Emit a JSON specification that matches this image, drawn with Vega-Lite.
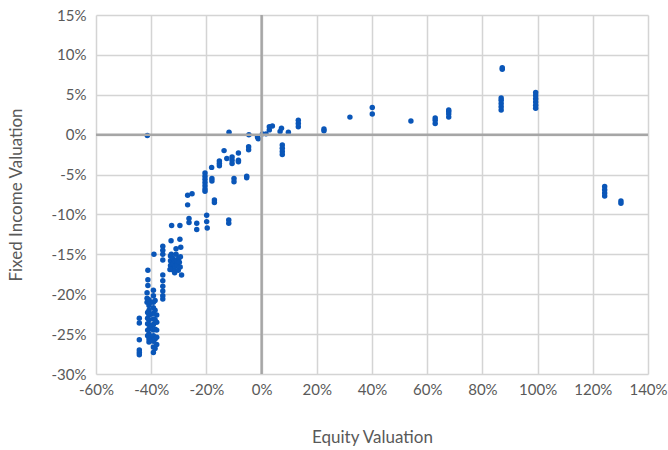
{
  "$schema": "https://vega.github.io/schema/vega-lite/v6.json",
  "width": 552,
  "height": 359,
  "autosize": {"type": "none"},
  "padding": {"left": 96, "top": 15, "right": 20, "bottom": 76},
  "background": "white",
  "config": {
    "view": {"stroke": null},
    "font": "Lato",
    "axis": {
      "labelFont": "Lato",
      "titleFont": "Lato",
      "labelColor": "#595959",
      "titleColor": "#595959",
      "labelFontSize": 15,
      "titleFontSize": 17,
      "titleFontWeight": "normal",
      "gridColor": "#d4d4d4",
      "gridWidth": 1.5,
      "domain": false,
      "ticks": false,
      "labelOverlap": false
    }
  },
  "datasets": {
    "pts": [
      {"x": -41.4, "y": -0.1},
      {"x": -44.3, "y": -23.0}, {"x": -44.3, "y": -23.6}, {"x": -44.3, "y": -25.7}, {"x": -44.3, "y": -27.0}, {"x": -44.3, "y": -27.3}, {"x": -44.3, "y": -27.6},
      {"x": -41.2, "y": -17.0}, {"x": -41.2, "y": -18.2}, {"x": -41.2, "y": -18.9},
      {"x": -41.5, "y": -19.8}, {"x": -41.5, "y": -20.5}, {"x": -41.5, "y": -21.0},
      {"x": -40.8, "y": -20.7}, {"x": -40.8, "y": -21.4}, {"x": -40.8, "y": -22.0}, {"x": -40.8, "y": -22.6}, {"x": -40.8, "y": -23.2}, {"x": -40.8, "y": -23.8}, {"x": -40.8, "y": -24.4}, {"x": -40.8, "y": -25.0}, {"x": -40.8, "y": -25.6}, {"x": -40.8, "y": -26.0},
      {"x": -41.3, "y": -22.3}, {"x": -41.3, "y": -23.0}, {"x": -41.3, "y": -23.7}, {"x": -41.3, "y": -24.5}, {"x": -41.3, "y": -25.2},
      {"x": -40.2, "y": -21.0}, {"x": -40.2, "y": -22.5}, {"x": -40.2, "y": -24.0}, {"x": -40.2, "y": -25.5},
      {"x": -39.2, "y": -19.5}, {"x": -39.2, "y": -20.2}, {"x": -39.2, "y": -21.0}, {"x": -39.2, "y": -21.7}, {"x": -39.2, "y": -22.4}, {"x": -39.2, "y": -23.1}, {"x": -39.2, "y": -23.8}, {"x": -39.2, "y": -24.5}, {"x": -39.2, "y": -25.2}, {"x": -39.2, "y": -25.9}, {"x": -39.2, "y": -26.6}, {"x": -39.2, "y": -27.3},
      {"x": -38.6, "y": -20.8}, {"x": -38.6, "y": -22.0}, {"x": -38.6, "y": -23.2}, {"x": -38.6, "y": -24.4}, {"x": -38.6, "y": -25.6}, {"x": -38.6, "y": -26.8},
      {"x": -38.0, "y": -22.6}, {"x": -38.0, "y": -23.5}, {"x": -38.0, "y": -24.5}, {"x": -38.0, "y": -25.4}, {"x": -38.0, "y": -26.3},
      {"x": -39.0, "y": -15.0},
      {"x": -35.8, "y": -14.0}, {"x": -35.8, "y": -14.5}, {"x": -35.8, "y": -15.0}, {"x": -35.8, "y": -15.7}, {"x": -35.8, "y": -17.6}, {"x": -35.8, "y": -18.3}, {"x": -35.8, "y": -19.0}, {"x": -35.8, "y": -19.6}, {"x": -35.8, "y": -20.2}, {"x": -35.8, "y": -20.6},
      {"x": -32.8, "y": -13.3}, {"x": -32.6, "y": -11.4}, {"x": -29.6, "y": -11.4}, {"x": -29.6, "y": -13.1}, {"x": -29.3, "y": -14.1},
      {"x": -31.0, "y": -14.3}, {"x": -31.0, "y": -15.0},
      {"x": -33.0, "y": -15.2}, {"x": -33.0, "y": -15.8}, {"x": -33.0, "y": -16.4}, {"x": -32.5, "y": -16.9}, {"x": -32.2, "y": -15.5}, {"x": -32.0, "y": -16.2}, {"x": -31.8, "y": -17.0}, {"x": -31.5, "y": -15.8}, {"x": -31.2, "y": -16.5}, {"x": -30.8, "y": -15.7}, {"x": -30.5, "y": -16.3}, {"x": -30.2, "y": -17.0}, {"x": -30.0, "y": -15.5}, {"x": -29.8, "y": -16.0}, {"x": -29.5, "y": -16.6}, {"x": -29.4, "y": -15.3}, {"x": -33.2, "y": -16.9}, {"x": -32.7, "y": -15.0}, {"x": -29.0, "y": -17.6}, {"x": -31.5, "y": -17.3},
      {"x": -26.8, "y": -7.6}, {"x": -25.2, "y": -7.4}, {"x": -26.8, "y": -8.8}, {"x": -26.3, "y": -10.5}, {"x": -26.3, "y": -11.0},
      {"x": -23.5, "y": -11.1}, {"x": -23.5, "y": -11.9},
      {"x": -20.5, "y": -4.8}, {"x": -20.5, "y": -5.2}, {"x": -20.5, "y": -5.6}, {"x": -20.5, "y": -6.0}, {"x": -20.5, "y": -6.4}, {"x": -20.5, "y": -6.8}, {"x": -20.5, "y": -7.1},
      {"x": -19.9, "y": -10.1}, {"x": -19.9, "y": -10.9}, {"x": -19.7, "y": -11.7},
      {"x": -18.1, "y": -4.1}, {"x": -18.0, "y": -5.5}, {"x": -18.0, "y": -5.8},
      {"x": -17.1, "y": -8.2}, {"x": -17.1, "y": -8.5},
      {"x": -15.3, "y": -3.3}, {"x": -15.3, "y": -3.6}, {"x": -15.3, "y": -3.9},
      {"x": -13.6, "y": -2.0}, {"x": -12.6, "y": -3.0}, {"x": -11.8, "y": 0.3},
      {"x": -11.9, "y": -10.7}, {"x": -11.9, "y": -11.1},
      {"x": -10.7, "y": -2.8}, {"x": -10.7, "y": -3.2}, {"x": -10.7, "y": -3.6},
      {"x": -10.0, "y": -5.5}, {"x": -10.0, "y": -5.9},
      {"x": -8.4, "y": -2.3}, {"x": -8.4, "y": -3.2}, {"x": -8.4, "y": -3.4},
      {"x": -5.4, "y": -5.2}, {"x": -5.4, "y": -5.4},
      {"x": -4.7, "y": -1.5}, {"x": -4.7, "y": -1.9}, {"x": -4.6, "y": 0.0},
      {"x": -1.5, "y": -0.3}, {"x": -1.2, "y": -0.5}, {"x": 0.3, "y": 0.1}, {"x": 1.6, "y": 0.1},
      {"x": 2.8, "y": 0.6}, {"x": 2.8, "y": 1.0}, {"x": 3.9, "y": 1.1},
      {"x": 6.7, "y": 0.4}, {"x": 7.2, "y": 0.8},
      {"x": 7.5, "y": -1.3}, {"x": 7.5, "y": -1.7}, {"x": 7.5, "y": -2.1}, {"x": 7.5, "y": -2.5},
      {"x": 9.7, "y": 0.3},
      {"x": 13.3, "y": 1.0}, {"x": 13.3, "y": 1.4}, {"x": 13.3, "y": 1.8},
      {"x": 22.6, "y": 0.5}, {"x": 22.6, "y": 0.7},
      {"x": 32.0, "y": 2.2},
      {"x": 40.1, "y": 2.6}, {"x": 40.1, "y": 3.4},
      {"x": 54.1, "y": 1.7},
      {"x": 62.9, "y": 1.4}, {"x": 62.9, "y": 1.8}, {"x": 62.9, "y": 2.1},
      {"x": 67.8, "y": 2.2}, {"x": 67.8, "y": 2.6}, {"x": 67.8, "y": 2.9}, {"x": 67.8, "y": 3.1},
      {"x": 87.2, "y": 8.2}, {"x": 87.2, "y": 8.4},
      {"x": 86.8, "y": 3.1}, {"x": 86.8, "y": 3.5}, {"x": 86.8, "y": 3.9}, {"x": 86.8, "y": 4.3}, {"x": 86.8, "y": 4.6},
      {"x": 99.3, "y": 3.3}, {"x": 99.3, "y": 3.7}, {"x": 99.3, "y": 4.1}, {"x": 99.3, "y": 4.5}, {"x": 99.3, "y": 4.9}, {"x": 99.3, "y": 5.3},
      {"x": 124.3, "y": -6.5}, {"x": 124.3, "y": -6.9}, {"x": 124.3, "y": -7.3}, {"x": 124.3, "y": -7.7},
      {"x": 130.2, "y": -8.3}, {"x": 130.2, "y": -8.6}
    ],
    "zx": [{"x": 0}],
    "zy": [{"y": 0}]
  },
  "encoding": {
    "x": {
      "field": "x", "type": "quantitative",
      "scale": {"domain": [-60, 140], "nice": false, "zero": false},
      "axis": {
        "values": [-60, -40, -20, 0, 20, 40, 60, 80, 100, 120, 140],
        "labelExpr": "datum.value + '%'",
        "title": "Equity Valuation",
        "titlePadding": 32,
        "labelPadding": 8,
        "labelFlush": false
      }
    },
    "y": {
      "field": "y", "type": "quantitative",
      "scale": {"domain": [-30, 15], "nice": false, "zero": false},
      "axis": {
        "values": [-30, -25, -20, -15, -10, -5, 0, 5, 10, 15],
        "labelExpr": "datum.value + '%'",
        "title": "Fixed Income Valuation",
        "titlePadding": 26,
        "labelPadding": 10,
        "labelFlush": false
      }
    }
  },
  "layer": [
    {
      "data": {"name": "pts"},
      "mark": {"type": "circle", "size": 30, "opacity": 1, "color": "#0a56b8"}
    },
    {
      "data": {"name": "zx"},
      "mark": {"type": "rule", "color": "#a6a6a6", "strokeWidth": 2.5},
      "encoding": {"y": null}
    },
    {
      "data": {"name": "zy"},
      "mark": {"type": "rule", "color": "#a6a6a6", "strokeWidth": 2.5},
      "encoding": {"x": null}
    }
  ]
}
